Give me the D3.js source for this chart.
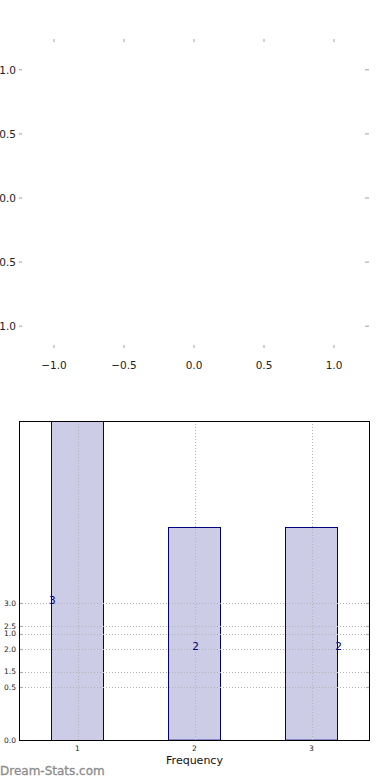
<html lang="en">
<head>
    <meta charset="UTF-8">
    <script type="text/javascript" src="https://cdn.jsdelivr.net/npm/d3@7"></script>
    <title>Frequency</title>
    <style>
        body { margin: 0; background: #fff; }
        text { font-family: "DejaVu Sans", sans-serif; }
    </style>
</head>
<body>
    <script type="text/javascript">

        // data
        var categories = [1, 2, 3];
        var frequencies = [3, 2, 2];
        var yTicksLow = [0, 0.5, 1.0];
        var yTicksHigh = [1.5, 2.0, 2.5, 3.0];
        var topTicks = [-1.0, -0.5, 0.0, 0.5, 1.0];

        var w = 390;
        var h = 780;

        var svg = d3.select("body")
            .append("svg")
            .attr("width", w)
            .attr("height", h);

        var fmt = d3.format(".1f");
        var minus = function (v) { return fmt(v).replace("-", "\u2212"); };

        // ---- top (empty) axes ----
        var tx = d3.scaleLinear().domain([-1.25, 1.25]).range([19, 369]);
        var ty = d3.scaleLinear().domain([-1.17, 1.24]).range([348, 39]);
        var upper = svg.append("g");

        // x ticks top and bottom
        upper.selectAll("line.xt-top")
            .data(topTicks).enter().append("line")
            .attr("x1", function (d) { return tx(d); })
            .attr("x2", function (d) { return tx(d); })
            .attr("y1", ty.range()[1])
            .attr("y2", ty.range()[1] + 3)
            .attr("stroke", "#b0b0b0").attr("stroke-width", 1.2);
        upper.selectAll("line.xt-bot")
            .data(topTicks).enter().append("line")
            .attr("x1", function (d) { return tx(d); })
            .attr("x2", function (d) { return tx(d); })
            .attr("y1", ty.range()[0])
            .attr("y2", ty.range()[0] - 3)
            .attr("stroke", "#b0b0b0").attr("stroke-width", 1.2);
        upper.selectAll("line.yt-left")
            .data(topTicks).enter().append("line")
            .attr("x1", tx.range()[0])
            .attr("x2", tx.range()[0] + 3)
            .attr("y1", function (d) { return ty(d); })
            .attr("y2", function (d) { return ty(d); })
            .attr("stroke", "#b0b0b0").attr("stroke-width", 1.2);
        upper.selectAll("line.yt-right")
            .data(topTicks).enter().append("line")
            .attr("x1", tx.range()[1])
            .attr("x2", tx.range()[1] - 4)
            .attr("y1", function (d) { return ty(d); })
            .attr("y2", function (d) { return ty(d); })
            .attr("stroke", "#b0b0b0").attr("stroke-width", 1.2);

        upper.selectAll("text.xl")
            .data(topTicks).enter().append("text")
            .attr("x", function (d) { return tx(d); })
            .attr("y", ty.range()[0] + 21)
            .attr("text-anchor", "middle")
            .attr("font-size", "10.5px")
            .attr("fill", "#222")
            .text(minus);
        upper.selectAll("text.yl")
            .data(topTicks).enter().append("text")
            .attr("x", tx.range()[0] - 3)
            .attr("y", function (d) { return ty(d); })
            .attr("dy", "0.36em")
            .attr("text-anchor", "end")
            .attr("font-size", "10.5px")
            .attr("fill", "#222")
            .text(minus);

        // ---- bottom bar chart ----
        var x = d3.scaleLinear().domain([0.5, 3.5]).range([19, 370]);
        var yLow = d3.scaleLinear().domain([0, 3]).range([740, 421]);
        var yHigh = d3.scaleLinear().domain([0, 7]).range([740, 421]);
        var barW = 0.445;
        var bot = svg.append("g");

        bot.selectAll("rect")
            .data(frequencies).enter().append("rect")
            .attr("x", function (d, i) { return Math.round(x(categories[i] - barW / 2)) + 0.5; })
            .attr("y", function (d) { return Math.round(yLow(d)) + 0.5; })
            .attr("width", function () { return Math.round(x(barW) - x(0)); })
            .attr("height", function (d) { return yLow(0) - yLow(d); })
            .attr("fill", "rgb(204,204,230)")
            .attr("stroke", "#000080")
            .attr("stroke-width", 1);

        // grid
        var gridStyle = function (sel) {
            sel.attr("stroke", "#b4b4b4")
                .attr("stroke-width", 1)
                .attr("stroke-dasharray", "1,2");
        };
        bot.selectAll("line.vg")
            .data(categories).enter().append("line")
            .attr("x1", function (d) { return Math.round(x(d)) + 0.5; })
            .attr("x2", function (d) { return Math.round(x(d)) + 0.5; })
            .attr("y1", 421).attr("y2", 740)
            .call(gridStyle);
        var hTicks = yTicksLow.map(function (d) { return { v: d, y: yLow(d) }; })
            .concat(yTicksHigh.map(function (d) { return { v: d, y: yHigh(d) }; }));
        bot.selectAll("line.hg")
            .data(hTicks).enter().append("line")
            .attr("x1", 19).attr("x2", 370)
            .attr("y1", function (d) { return Math.round(d.y) + 0.5; })
            .attr("y2", function (d) { return Math.round(d.y) + 0.5; })
            .call(gridStyle);

        // tick marks
        bot.selectAll("line.lt")
            .data(hTicks).enter().append("line")
            .attr("x1", 19).attr("x2", 23)
            .attr("y1", function (d) { return Math.round(d.y) + 0.5; })
            .attr("y2", function (d) { return Math.round(d.y) + 0.5; })
            .attr("stroke", "#b0b0b0").attr("stroke-width", 1.2);
        bot.selectAll("line.rt")
            .data(hTicks).enter().append("line")
            .attr("x1", 366).attr("x2", 370)
            .attr("y1", function (d) { return Math.round(d.y) + 0.5; })
            .attr("y2", function (d) { return Math.round(d.y) + 0.5; })
            .attr("stroke", "#b0b0b0").attr("stroke-width", 1.2);

        // frame
        bot.append("rect")
            .attr("x", 19.5).attr("y", 421.5)
            .attr("width", 350).attr("height", 319)
            .attr("fill", "none")
            .attr("stroke", "#000")
            .attr("stroke-width", 1);

        // tick labels
        bot.selectAll("text.yl")
            .data(hTicks).enter().append("text")
            .attr("x", 16)
            .attr("y", function (d) { return d.y; })
            .attr("dy", "0.36em")
            .attr("text-anchor", "end")
            .attr("font-size", "7.5px")
            .attr("fill", "#222")
            .text(function (d) { return fmt(d.v); });
        bot.selectAll("text.xl")
            .data(categories).enter().append("text")
            .attr("x", function (d) { return x(d); })
            .attr("y", 751)
            .attr("text-anchor", "middle")
            .attr("font-size", "7.5px")
            .attr("fill", "#222")
            .text(function (d) { return d; });

        bot.append("text")
            .attr("x", x(2))
            .attr("y", 764)
            .attr("text-anchor", "middle")
            .attr("font-size", "11px")
            .attr("fill", "#111")
            .text("Frequency");

        // value labels
        bot.selectAll("text.val")
            .data(frequencies).enter().append("text")
            .attr("x", function (d, i) { return x(categories[i] + (i - 1) * barW / 2) + 1; })
            .attr("y", function (d) { return yHigh(d) + 1; })
            .attr("text-anchor", "middle")
            .attr("font-size", "10.5px")
            .attr("fill", "#000080")
            .text(function (d) { return d; });

        // watermark
        svg.append("text")
            .attr("x", 0)
            .attr("y", 775)
            .attr("font-size", "12px")
            .attr("fill", "#8c8c8c")
            .attr("stroke", "#8c8c8c")
            .attr("stroke-width", 0.3)
            .text("Dream-Stats.com");
    </script>
</body>
</html>
